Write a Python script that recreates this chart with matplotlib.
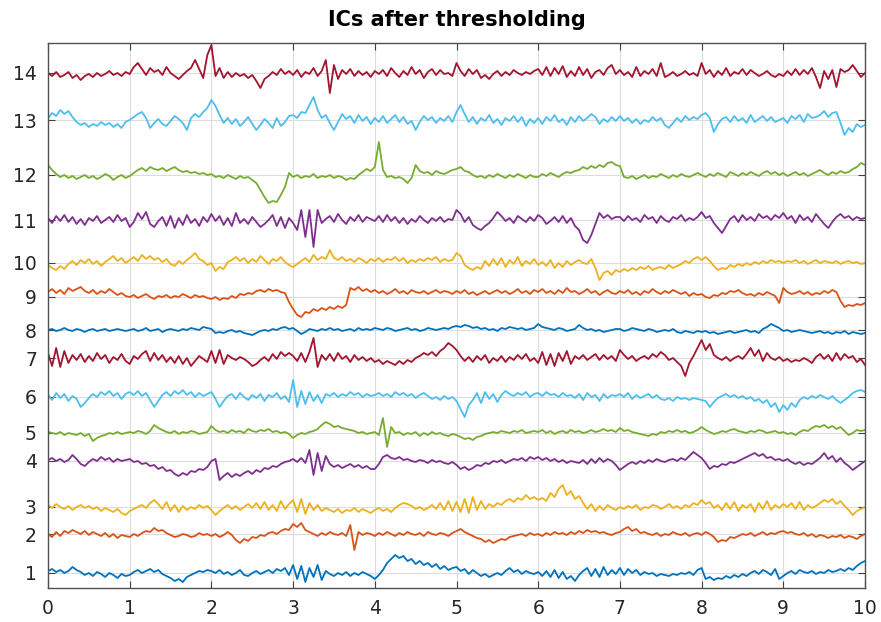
import numpy as np
import matplotlib
matplotlib.use('Agg')
import matplotlib.pyplot as plt

# trace deviations in pixels (up = positive), one value every 0.05 s from 0 to 10 s
ic1 = [2, 4, 1, 3, 0, 2, 6, 3, 1, -2, 0, -3, 1, -1, -4, 0, -2, -5, -1, -3,
       -2, 1, 3, 0, 2, 4, 1, 3, -1, -3, -5, -8, -6, -9, -4, -2, 0, 2, 1, 3,
       2, 0, 3, -1, 1, -2, 0, 3, -2, -3, 0, 2, -1, 1, 3, 0, 4, 2, 5, -2,
       8, -6, 7, -9, 5, -4, 8, -7, 2, -1, -3, 0, -2, 1, -3, 0, -2, 1, -1, -3,
       -6, -2, 3, 10, 14, 18, 15, 17, 12, 14, 9, 12, 8, 10, 6, 9, 4, 7, 3, 5,
       6, 2, 4, -1, 3, 0, -3, -1, -4, -2, 0, -2, 2, 5, 1, 3, -1, 2, 0, -1,
       1, -3, 2, -4, 3, -5, 1, -6, -3, -8, -2, 2, 5, -3, 4, -4, 6, -2, 3, -1,
       5, -2, 4, 0, 3, -2, 1, -1, 0, -3, -1, -2, -3, -1, -2, 0, -1, 1, -2, 3,
       5, -6, -4, -7, -5, -6, -3, -5, -2, -4, -1, -3, 0, 2, -1, 3, 1, -2, 4, -6,
       -3, 0, 2, -1, 3, 1, 0, 2, -1, 1, 0, 3, 1, 2, 4, 2, 5, 3, 7, 10,
       12]
ic2 = [0, -3, 2, -2, 3, 1, 4, 2, 0, 3, -1, 2, 0, -2, 1, -3, 0, -4, -1, -2,
       -3, 0, -2, 1, 3, 2, 6, 3, 4, 1, -1, -3, -2, 0, -1, -3, -2, 1, -1, 0,
       -2, 0, -3, -1, 2, -1, -6, -9, -5, -7, -3, -4, -1, -2, 1, 2, 0, 3, 5, 4,
       10, 7, 11, 4, 2, 0, -2, 1, -1, 2, 0, -1, 1, -2, 9, -16, 2, -1, 1, 0,
       -2, 1, -1, 2, 0, -2, 1, -1, 2, 0, -1, 1, -2, 2, 0, -1, 1, 0, -2, 1,
       3, 5, 2, 0, -2, -4, -5, -8, -6, -9, -7, -5, -6, -3, -2, -1, 0, -2, 1, -1,
       0, -2, 1, -1, 2, 0, 1, -1, 2, 0, 3, 1, 4, 2, 3, 1, 2, 0, -1, 1,
       2, 5, 7, 3, 5, 1, 2, 0, -1, 1, -2, 0, -1, 2, 0, -1, 1, -2, 0, 1,
       -1, 2, 0, -3, -8, -6, -7, -3, -4, -2, 0, -1, 1, -2, 0, 2, -1, 1, 0, 2,
       3, 1, 2, 0, -1, 1, -2, 0, -3, -1, -2, -4, -2, -3, -1, -4, -2, -3, -5, -2,
       0]
ic3 = [2, -1, 3, 0, -2, 1, -3, 0, 2, -1, 1, -2, 0, -4, -1, -3, -5, -2, -6, -8,
       -4, -2, 0, 2, -1, 4, 7, 3, -2, 5, -4, 2, -5, 1, -3, 0, -2, 2, -1, 1,
       -3, -8, -4, -1, 2, -2, 1, -3, 0, 3, -1, 4, -2, 5, -3, 2, -4, 6, -2, 3,
       7, -5, 8, -7, 4, -3, 2, -4, -1, -3, -5, -2, -6, -3, -4, -1, -5, -2, -4, -6,
       -3, -1, -4, -2, -5, -1, 2, 4, 3, 1, -2, 0, -3, -1, 2, -2, 4, -3, 6, -4,
       5, -5, 8, -6, 10, -3, 6, -2, 3, 0, 4, 2, 6, 8, 5, 9, 7, 12, 8, 10,
       7, 9, 6, 14, 10, 18, 22, 12, 16, 8, 11, 4, -2, 3, -4, 1, -3, 2, -1, -3,
       0, -2, 1, -1, 2, -3, 0, -1, 2, 1, -2, 0, 3, -1, 1, -2, 2, 0, 4, 2,
       7, 3, 5, -1, 2, -3, 4, -2, 5, -4, 2, -1, 3, -5, 4, -2, 6, -3, 2, -1,
       3, 0, 4, -2, 5, -3, 2, -1, 1, 4, 7, 5, 8, 3, 6, 1, -3, -8, -4, -2,
       0]
ic4 = [1, 3, 0, 2, -1, 1, 6, 2, -3, -5, -1, 2, 0, 4, 1, 3, -1, 2, 0, 1,
       2, -1, 0, -3, -2, -5, -4, -8, -6, -10, -9, -13, -15, -12, -14, -10, -11, -8, -9, -6,
       0, 2, -19, -15, -12, -16, -13, -15, -12, -10, -13, -9, -11, -7, -8, -5, -6, -3, -1, 0,
       2, -1, 3, -2, 11, -14, 8, -10, 5, -3, -6, -4, -7, -5, -3, -6, -4, -7, -5, -8,
       -8, -3, 4, 6, 3, 2, 4, 1, 2, 0, -1, 1, 0, -2, 1, -1, 0, -2, -3, -1,
       -4, -8, -6, -9, -7, -4, -5, -2, -3, 0, -1, 1, -2, 0, 2, 1, 3, 0, 4, 2,
       4, 1, 3, 0, 2, -1, 1, -2, 0, -1, -2, 1, -3, 2, -2, 3, -1, 2, 0, -4,
       -9, -6, -3, -1, -3, 0, -2, 1, -1, 2, 0, -1, 1, 2, 0, 3, 1, 5, 9, 6,
       3, -2, -8, -5, -6, -3, -4, -1, -2, 0, 2, 4, 6, 8, 5, 7, 3, 4, 1, 2,
       0, 2, -1, -3, -1, -4, -2, -3, 0, 3, 8, 2, 5, -1, 3, -2, -5, -9, -6, -3,
       0]
ic5 = [1, 0, -1, 1, -2, 0, -1, -2, 0, -3, -1, -8, -5, -3, -2, 0, -1, 1, -1, 0,
       1, 0, 2, 1, -1, 2, 8, 5, 3, 1, 0, 2, -1, 1, 0, 2, 1, -1, 0, 1,
       7, 3, 1, 2, 0, 3, 1, 2, 0, 4, 2, 1, 3, 2, 4, 1, 2, 0, 1, -1,
       -5, -2, 0, -1, 1, 2, 4, 8, 11, 9, 6, 7, 5, 4, 3, 2, 0, 1, -1, 0,
       1, -2, 15, -14, 6, 0, 1, -2, 0, -1, 1, -3, 0, -2, 1, -1, 0, -2, -3, -1,
       -2, -4, -6, -5, -7, -4, -3, -1, 0, 1, 0, 2, 1, 0, 2, 1, 3, 0, 1, 2,
       1, 3, 0, 2, -1, 1, 2, 0, 3, 1, 2, 0, 1, 3, 1, 2, 4, 2, 3, 1,
       5, 2, 3, 1, 0, -1, -2, -3, -1, -2, 1, 0, 2, 1, 3, 1, 2, 0, 1, 3,
       6, 3, 1, -1, 0, 2, 1, 3, 4, 2, 1, 0, 2, 1, 3, 2, 0, 1, 2, 0,
       1, -1, 0, -2, 1, 3, 2, 5, 7, 6, 8, 5, 7, 4, 6, 2, -2, 0, 3, 2,
       3]
ic6 = [2, -3, 4, -1, 3, -4, 1, -2, -10, -6, -1, 3, 0, 5, 2, 6, 1, 4, -2, 3,
       5, 2, 6, 1, 4, -3, -10, -4, 2, 5, 1, 6, 3, 7, 2, 5, 0, 4, 1, 3,
       5, -2, -10, -4, 1, 3, -2, 4, 0, -3, 2, -1, 3, -4, 2, 0, 4, -2, 1, -5,
       17, -10, 6, -7, 5, -4, 2, -6, 3, 1, 4, 0, 3, 1, 5, 2, 4, 0, 3, 1,
       2, 4, 1, 3, 0, 5, 2, 4, 1, 3, -1, 2, 4, 1, -2, 0, -3, 1, -2, 0,
       -4, -12, -20, -8, -3, 4, -6, 5, -2, 3, -5, 2, 6, 3, 1, 4, 2, 5, 0, 3,
       4, 1, 5, 2, 3, 0, 4, 1, 2, -1, 3, -3, 4, 0, 2, -4, 3, -1, 2, 1,
       3, 0, 4, -2, 2, -1, 1, 3, -1, 2, -2, -3, -1, -4, 0, -2, -1, -3, -1, -2,
       -3, -4, -10, -5, -1, 1, 3, 0, 2, -1, 1, -2, 0, -4, -2, -6, -3, -10, -6, -15,
       -8, -13, -6, -10, -3, 0, -2, 1, -1, 2, 0, -2, 1, -3, -6, -3, 0, 4, 6, 7,
       5]
ic7 = [5, -8, 10, -9, 7, -5, 3, -2, 4, -4, 2, -3, 5, -1, 3, -5, 1, -2, 4, -3,
       -6, 2, -1, 4, 7, -3, 5, -2, 3, -4, 1, -5, 2, -6, 0, -8, -3, 2, -1, -4,
       7, -5, 8, -6, 3, 0, -2, 1, -1, -4, -8, -6, -2, 1, -3, 4, -1, 6, 2, 5,
       2, -3, 5, -4, 6, 20, -9, 3, -2, 4, -3, 5, -1, 2, -4, 3, -2, 1, -3, 0,
       -4, -2, -6, -3, -5, -7, -3, -6, -2, -4, 0, 2, 5, 3, 6, 2, 7, 10, 15, 12,
       8, 2, -3, 1, -4, 2, -2, 3, -5, 0, -3, 2, -4, 1, -2, 3, -1, 4, -3, 0,
       -5, 6, -7, 4, -8, 5, -3, 7, -6, 2, -1, 3, -2, 1, 4, -2, 3, -1, 2, -3,
       8, 3, -1, 2, -3, 0, 2, -1, 4, 1, 6, 3, -2, 0, -4, -8, -18, -5, 2, 10,
       18, 8, 14, 3, 0, -2, 1, -3, 0, 2, -1, 4, 10, 2, 8, -3, 5, 0, -2, 1,
       -3, -1, -4, -2, -3, 0, -2, -5, 1, 4, -1, 3, -3, 5, -2, 4, 0, 2, -4, -1,
       -7]
ic8 = [0, 1, -1, 0, 2, 0, -1, 1, 0, -2, 0, 1, -1, 0, 1, -1, 0, 1, 0, -1,
       0, 1, -1, 0, 2, -1, 0, 1, -2, 0, 1, 0, -1, 1, 0, 2, 1, 0, 3, 2,
       1, -3, -2, -3, -1, 0, -2, -1, -3, -4, -5, -3, -1, 0, -1, 1, 0, 2, 3, 1,
       2, -1, -4, -2, 1, 0, -1, 1, 0, 2, 0, 1, -1, 0, 1, -1, 2, 0, 1, 0,
       2, 1, 0, 2, 1, -1, 0, 1, 2, 0, 1, -1, 0, 2, 1, 0, 1, 2, 1, 3,
       4, 3, 5, 4, 2, 3, 1, 2, 0, 1, -1, 2, 1, 3, 2, 1, 2, 0, 1, 2,
       6, 3, 2, 1, 0, 2, 1, -1, 0, 1, 5, 2, 0, 1, -1, 0, -2, -1, 0, 1,
       1, -1, 0, 2, 1, 0, -1, 1, 0, -2, -1, 0, -1, 1, -2, -3, -1, -2, -3, -1,
       -2, -1, -3, -2, -4, -3, -2, -1, -3, -2, -1, 0, -2, -1, -3, 1, 3, 6, 4, 2,
       -1, 0, -2, -1, 0, -1, -2, -3, -2, -1, -3, -2, -4, -2, -3, -1, -4, -2, -3, -4,
       -3]
ic9 = [5, 8, 4, 7, 3, 9, 6, 8, 10, 6, 4, 7, 3, 6, 4, 8, 5, 2, 4, 1,
       0, 2, -1, 1, 3, 0, -2, 1, 0, 2, -1, 1, 0, 3, 1, -1, 2, 0, 1, -1,
       -2, 0, -3, -1, -2, 1, -1, 3, 2, 4, 3, 6, 7, 5, 8, 6, 7, 5, 4, -5,
       -12, -18, -20, -15, -16, -12, -14, -11, -13, -10, -12, -9, -11, -8, 9, 7, 10, 6, 8, 5,
       7, 4, 6, 3, 5, 8, 4, 6, 3, 7, 5, 4, 6, 3, 5, 7, 4, 6, 5, 3,
       6, 4, 7, 3, 5, 2, 4, 6, 3, 5, 7, 4, 6, 3, 5, 8, 4, 6, 3, 7,
       5, 8, 4, 6, 3, 7, 4, 9, 5, 6, 3, 5, 8, 4, 6, 2, 5, 7, 4, 3,
       6, 4, 7, 3, 5, 2, 6, 4, 8, 5, 3, 6, 4, 7, 5, 3, 5, 1, 4, 2,
       3, 0, -1, 2, 1, 4, 3, 6, 5, 7, 4, 2, 3, 1, 4, 2, 5, 3, 1, -6,
       9, 5, 3, 4, 6, 3, 5, 2, 4, 3, 6, 4, 7, 5, -4, -10, -8, -9, -7, -8,
       -6]
ic10 = [-2, -5, -7, -3, -6, -1, 2, -2, 3, 0, 4, -1, 2, -3, 1, 4, 7, 2, 5, 0,
        3, 6, 2, 8, 4, 7, 3, 5, 1, 4, -1, -3, 2, -1, 3, 6, 10, 4, 2, -2,
        0, -8, -4, -6, 1, 3, 6, 2, 5, 0, 4, 1, 7, 3, -1, 4, 2, 6, 1, -2,
        -4, -1, 2, 5, 1, 8, 3, 6, 4, 13, 5, 3, 6, 2, 4, 1, 5, 3, 0, 4,
        2, 5, 1, 4, 3, 6, 2, 5, 0, 3, 1, 4, 2, 5, 3, 6, 1, 4, 2, 3,
        10, 7, -2, -5, -7, -4, -6, 2, -3, 4, -2, 5, -4, 3, -1, 6, -3, 2, -1, 4,
        -2, 1, -3, 3, -5, 0, -4, 2, -2, 1, 3, 0, -1, 4, -5, -17, -10, -8, -12, -7,
        -9, -6, -8, -5, -7, -4, -6, -3, -7, -5, -4, -6, -2, -5, -3, -1, 2, 0, 4, 6,
        3, 6, 2, -3, -7, -5, -6, -2, -4, -1, -3, 0, -2, 1, -1, 2, 0, 3, 1, 2,
        0, 2, 1, 3, 0, 2, -1, 1, 3, 0, 2, 1, 0, 2, -1, 1, 2, 0, 1, -1,
        0]
ic11 = [2, -3, 4, -1, 5, -2, 3, -4, 1, -5, 2, -1, 4, -3, 0, 3, -2, 5, -1, 2,
        -7, -2, 7, 1, 8, -4, -7, -1, 3, -6, 4, -8, 2, -5, 5, -3, 1, -6, 3, -2,
        6, -1, 4, -5, 2, -6, 7, -3, 1, -4, 3, -2, -7, -4, 0, 5, -6, 3, -8, 2,
        -3, -10, 10, -17, 10, -27, 10, -3, 1, 4, -2, 6, 0, -4, 3, -1, 5, -2, 3, 1,
        -1, 4, -2, 5, -1, 3, -3, 2, -4, 1, -2, 4, 0, -3, 2, -1, 3, -2, 1, 0,
        10, 6, -2, 3, -5, -8, -10, -6, -3, 2, 8, 4, -1, 2, -3, 4, 1, -2, 3, -1,
        5, 2, -4, -1, 3, -2, 4, -3, 2, -6, -10, -20, -23, -15, -4, 7, 2, 5, 1, 3,
        3, -1, 4, 0, 2, -2, 5, 1, 3, -3, 4, 0, -2, 3, 1, 5, -1, 2, 0, 3,
        8, 2, 4, -3, -8, -13, -6, 1, 4, -2, 5, 0, 3, -1, 6, 2, 4, 0, 5, 2,
        7, 1, 4, -3, 5, 0, 3, -2, 6, 1, -4, -8, -2, 3, 6, 2, 4, 0, 3, 1,
        2]
ic12 = [10, 5, 1, -2, 0, -3, -1, -4, -2, 0, -3, -1, -4, -2, 1, -1, -5, -2, 0, -3,
        -1, 2, 5, 7, 4, 8, 6, 5, 7, 4, 6, 8, 5, 3, 4, 2, 3, 1, 2, 0,
        1, -2, -1, -3, 0, -2, -4, -1, -3, -2, -5, -8, -15, -22, -28, -26, -27, -20, -12, 2,
        -2, 0, -3, -1, -2, 1, -3, -1, -2, 0, -3, -1, -2, -5, -3, -4, 0, 3, 6, 4,
        8, 33, 5, -2, -1, -3, -2, -4, -8, -3, 10, 4, 2, 3, 0, 4, 2, 1, 3, 5,
        6, 8, 4, 3, 0, -2, -1, -3, 0, -2, 1, -1, -3, 0, -2, 1, -1, -3, 0, -2,
        -2, 1, -1, 2, 0, -2, 1, 3, 2, 4, 5, 8, 6, 9, 7, 10, 8, 12, 13, 10,
        9, -2, -3, -1, -4, -2, 0, -3, -1, -2, 1, -1, -3, 0, -2, 1, -1, -2, 0, 2,
        0, -2, 1, -1, 2, 0, -2, 3, 1, -1, 2, 0, 3, 1, -1, 2, 4, 1, 3, 0,
        2, -1, 1, 3, 0, 2, -1, 1, 3, 5, 2, 0, 3, 1, 4, 2, 3, 6, 8, 12,
        10]
ic13 = [2, 7, 4, 10, 6, 9, 3, -2, -5, -3, -7, -4, -6, -2, -5, -3, -7, -4, -8, -2,
        0, 3, 6, 8, 2, -8, -3, 1, -4, -6, -1, 4, 1, -3, -10, 2, 6, 3, 8, 12,
        20, 14, 5, -3, 2, -4, 1, -6, -2, 3, -4, -10, -5, 1, -3, -8, 2, -6, -2, 4,
        5, 2, 8, 7, 15, 23, 10, 2, 5, -3, -10, -2, 6, 1, 4, -3, 5, -1, 3, -4,
        2, -2, 4, -3, 1, 5, -2, 3, -4, -1, -10, -2, 4, 0, 3, -3, 2, -1, 4, -2,
        8, 15, 6, -2, 3, -4, 2, -1, 5, -3, 1, -5, 2, -1, 4, -2, 3, -6, 1, -3,
        2, -4, 3, -1, 5, -2, 1, -5, 3, -2, 4, -1, 2, 6, 3, -4, 1, -2, 3, -1,
        4, -1, 2, -3, 1, -4, 0, -2, 3, -1, 2, -5, -8, -3, 2, -2, 4, 0, 3, 1,
        5, 7, 2, -12, -4, 1, 3, -2, 4, -1, 2, -3, 5, -2, 1, 4, -1, 3, -2, 0,
        2, -3, 4, 1, 5, -2, 6, 2, 3, 5, 9, 3, 7, 8, -3, -15, -8, -12, -4, -7,
        -5]
ic14 = [0, -3, 1, -4, -2, 1, -5, -2, -7, -3, -1, -4, 0, -3, -1, 2, -2, 0, -3, 1,
        -1, 6, 10, 4, -2, 5, 1, 3, -2, 6, 0, -3, -6, -2, 2, 5, 13, 4, -5, 18,
        28, -3, 5, -5, 1, -4, 0, -3, -1, -5, -2, -8, -15, -6, -3, 1, -2, 4, -1, 2,
        -2, 3, -4, 1, -1, 5, -3, 2, 13, -20, 8, -6, 3, -1, 4, -3, 2, -2, 1, -4,
        2, -1, 3, -3, 5, 0, -4, 2, -2, 6, -1, 3, -5, 1, 4, -2, 3, -1, 0, -3,
        10, 2, -3, 4, -1, 3, -5, -2, -6, -1, 2, -3, 1, -2, 3, 0, -2, 1, -1, 2,
        4, -2, 6, -3, 5, -1, 7, -4, 2, -3, 6, -2, 4, -5, 1, 3, -2, 5, 8, -1,
        3, -2, 1, -4, 6, -3, 2, -1, 4, -3, 10, -4, -2, 1, -3, -1, 2, -2, 0, -3,
        10, -1, 3, -4, 2, -2, 5, -3, 1, -1, 4, -2, 3, 0, -3, -1, 2, -2, -4, -1,
        -3, 2, -2, 4, -2, 3, -1, 5, -4, -15, 2, -6, 3, -14, 4, 1, 3, 8, 2, -4,
        0]

traces = [ic1, ic2, ic3, ic4, ic5, ic6, ic7, ic8, ic9, ic10, ic11, ic12, ic13, ic14]
offsets = [15, 54, 81, 127, 155, 191, 230, 258, 291, 325, 368, 413, 468, 515]
labels = ['1', '2', '3', '4', '5', '6', '7', '8', '9', '10', '11', '12', '13', '14']

# matlab default line colours
colors = ['#0072BD', '#D95319', '#EDB120', '#7E2F8E', '#77AC30', '#4DBEEE', '#A2142F']

fig = plt.figure(figsize=(8.81, 6.22), dpi=100)
ax = fig.add_axes([48/881, 34/622, 817/881, 545/622])

for i, tr in enumerate(traces):
    t = np.linspace(0, 10, len(tr))
    ax.plot(t, offsets[i] + np.array(tr), color=colors[i % 7], lw=1.3)

ax.set_xlim(0, 10)
ax.set_ylim(0, 545)
ax.set_xticks(range(11))
ax.set_yticks(offsets)
ax.set_yticklabels(labels)
ax.grid(True, color='#dcdcdc', lw=0.8)
ax.set_axisbelow(True)
ax.tick_params(direction='in', top=True, right=True, length=5, width=0.8,
               labelsize=13.5, colors='#404040', labelcolor='#262626', pad=8)
for s in ax.spines.values():
    s.set_color('#505050')
    s.set_linewidth(1.0)
ax.set_title('ICs after thresholding', fontsize=15, fontweight='bold', pad=12)

fig.savefig('out.png', dpi=100)
